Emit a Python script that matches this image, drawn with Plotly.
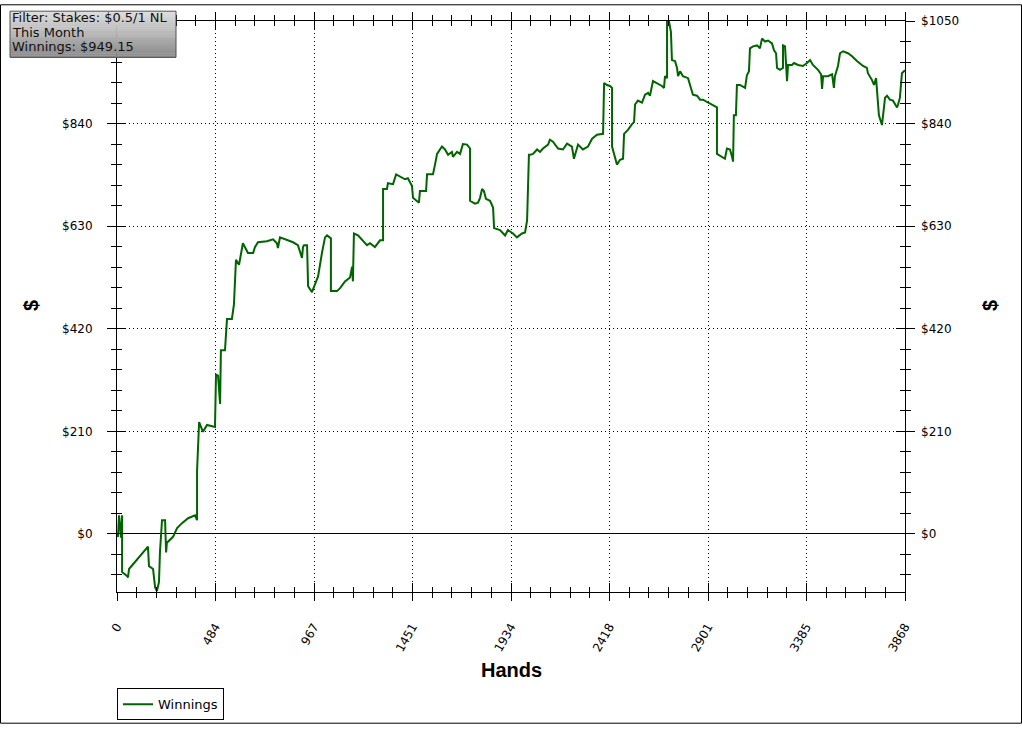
import plotly.graph_objects as go

# ---------------- data ----------------
hands = [0, 5, 10, 20, 25, 25, 49, 54, 59, 98, 128, 152, 157, 177, 187, 196, 206, 211, 221, 236,
         241, 245, 275, 295, 319, 349, 383, 393, 393, 403, 422, 442, 481, 486, 496, 506, 510, 530,
         540, 564, 574, 584, 599, 618, 643, 668, 677, 692, 736, 766, 785, 790, 800, 834, 864, 888,
         908, 913, 918, 933, 938, 957, 972, 987, 1006, 1021, 1031, 1050, 1050, 1080, 1095, 1119,
         1144, 1154, 1158, 1163, 1183, 1203, 1227, 1242, 1266, 1291, 1306, 1306, 1325, 1330, 1355,
         1370, 1389, 1414, 1428, 1448, 1453, 1473, 1482, 1487, 1517, 1522, 1551, 1561, 1571, 1595,
         1610, 1625, 1644, 1649, 1669, 1684, 1698, 1718, 1733, 1733, 1757, 1772, 1782, 1792, 1801,
         1811, 1831, 1846, 1851, 1880, 1905, 1919, 1944, 1963, 1988, 2003, 2013, 2022, 2027, 2042,
         2062, 2076, 2091, 2116, 2125, 2140, 2165, 2189, 2209, 2233, 2243, 2263, 2287, 2312, 2332,
         2356, 2386, 2391, 2405, 2420, 2430, 2430, 2444, 2454, 2469, 2484, 2489, 2508, 2528, 2538,
         2543, 2557, 2577, 2592, 2607, 2616, 2631, 2651, 2675, 2685, 2690, 2700, 2700, 2710, 2719,
         2724, 2739, 2749, 2754, 2764, 2778, 2803, 2818, 2827, 2847, 2862, 2876, 2901, 2926, 2945,
         2945, 2970, 2984, 2994, 3009, 3019, 3024, 3028, 3038, 3043, 3058, 3083, 3092, 3102, 3107,
         3122, 3142, 3156, 3166, 3181, 3196, 3215, 3225, 3235, 3240, 3254, 3269, 3269, 3279, 3289,
         3294, 3313, 3323, 3343, 3367, 3387, 3402, 3416, 3441, 3456, 3461, 3466, 3490, 3510, 3519,
         3524, 3539, 3549, 3564, 3588, 3608, 3632, 3662, 3681, 3686, 3706, 3716, 3726, 3731, 3740,
         3755, 3760, 3770, 3780, 3794, 3809, 3829, 3834, 3843, 3853, 3868]

winnings = [0, -6, 38, -8, 38, -78, -86, -89, -72, -52, -39, -26, -66, -72, -109, -117, -99, -36, 28, 28,
            -38, -18, -6, 12, 22, 32, 38, 28, 129, 229, 209, 223, 219, 326, 324, 266, 376, 376,
            440, 440, 470, 561, 551, 595, 575, 575, 587, 597, 599, 603, 595, 585, 607, 601, 597, 591,
            565, 587, 591, 591, 507, 495, 511, 527, 575, 607, 611, 605, 497, 497, 503, 517,
            525, 547, 517, 615, 611, 601, 591, 595, 587, 601, 601, 706, 706, 718, 716,
            736, 732, 726, 728, 712, 688, 682, 678, 702, 702, 736, 736, 756, 778, 793,
            787, 776, 782, 772, 782, 778, 798, 797, 789, 682, 676, 678, 688, 706, 702,
            686, 682, 668, 626, 622, 611, 622, 615, 607, 615, 617, 642, 776, 776, 778,
            787, 782, 789, 797, 807, 803, 789, 787, 799, 793, 768, 797, 787, 793, 809,
            817, 819, 923, 919, 917, 913, 793, 772, 756, 766, 768, 819, 827, 839, 843,
            879, 887, 883, 899, 903, 897, 927, 923, 917, 913, 937, 933, 1048, 1048, 1028,
            970, 968, 954, 937, 947, 937, 933, 913, 899, 897, 889, 889, 883, 877, 873,
            778, 772, 768, 789, 787, 772, 762, 857, 857, 919, 919, 913, 939, 947, 994,
            998, 1000, 994, 1014, 1008, 1010, 1004, 990, 984, 954, 950, 954, 1000, 998, 927,
            960, 960, 964, 960, 958, 964, 970, 960, 950, 941, 911, 937, 937, 941, 913,
            937, 958, 984, 988, 984, 978, 968, 958, 954, 943, 929, 919, 933, 903, 857,
            837, 859, 893, 897, 889, 887, 873, 879, 893, 943, 949.15]

x_tick_vals = [0, 483.5, 967, 1450.5, 1934, 2417.5, 2901, 3384.5, 3868]
x_tick_text = ["0", "484", "967", "1451", "1934", "2418", "2901", "3385", "3868"]
y_tick_vals = [0, 210, 420, 630, 840, 1050]
y_tick_text = ["$0", "$210", "$420", "$630", "$840", "$1050"]
x_range = [0, 3868]
y_range = [-119, 1050]
y_minor_step = 42
x_minor_step = 3868 / 40

series_name = "Winnings"
x_title = "Hands"
y_title = "$"
filter_lines = ["Filter: Stakes: $0.5/1 NL", "This Month", "Winnings: $949.15"]

# ---------------- layout helpers ----------------
W, H = 1022, 732
L, R, T, B = 117, 117, 17, 134
PW, PH = W - L - R, H - T - B


def px(x):
    return (x - L) / PW


def py(y):
    return (H - B - y) / PH


LINE_COLOR = "#006400"
TICK_FONT = dict(family="DejaVu Sans, Verdana", size=12, color="black")

fig = go.Figure()
fig.add_trace(go.Scatter(x=hands, y=winnings, mode="lines", name=series_name,
                         line=dict(color=LINE_COLOR, width=2), xaxis="x", yaxis="y"))
# helper traces so the overlay axes are drawn
fig.add_trace(go.Scatter(x=[None], y=[None], xaxis="x2", yaxis="y2", showlegend=False,
                         hoverinfo="skip"))
fig.add_trace(go.Scatter(x=[None], y=[None], xaxis="x", yaxis="y3", showlegend=False,
                         hoverinfo="skip"))

grid_common = dict(showgrid=True, gridcolor="black", gridwidth=1, griddash="1px,3px")
# left labels: the top one sits under the filter box in the reference
left_text = y_tick_text[:-1] + [""]

fig.update_layout(
    width=W, height=H,
    margin=dict(l=L, r=R, t=T, b=B, pad=0),
    paper_bgcolor="white", plot_bgcolor="white",
    showlegend=True,
    xaxis=dict(type="linear", range=x_range, tickmode="array", tickvals=x_tick_vals,
               ticktext=x_tick_text, ticks="outside", ticklen=8, tickwidth=1, tickcolor="black",
               tickangle=-60, tickfont=TICK_FONT, ticklabelstandoff=14,
               minor=dict(tick0=0, dtick=x_minor_step, ticks="outside", ticklen=5,
                          tickcolor="black", showgrid=False),
               showline=True, linecolor="black", linewidth=1, mirror="ticks",
               zeroline=False, **grid_common),
    xaxis2=dict(type="linear", overlaying="x", anchor="y", side="bottom", range=x_range,
                tickmode="array", tickvals=x_tick_vals, showticklabels=False,
                ticks="inside", ticklen=9, tickwidth=1, tickcolor="black",
                minor=dict(tick0=0, dtick=x_minor_step, ticks="inside", ticklen=5,
                           tickcolor="black", showgrid=False),
                showline=False, mirror="ticks", showgrid=False, zeroline=False),
    yaxis=dict(type="linear", range=y_range, tickmode="array", tickvals=y_tick_vals,
               ticktext=left_text,
               ticks="outside", ticklen=9, tickwidth=1, tickcolor="black", tickfont=TICK_FONT,
               ticklabelstandoff=12,
               minor=dict(tick0=0, dtick=y_minor_step, ticks="outside", ticklen=5,
                          tickcolor="black", showgrid=False),
               showline=True, linecolor="black", linewidth=1, mirror="ticks",
               zeroline=True, zerolinecolor="black", zerolinewidth=1, **grid_common),
    yaxis2=dict(type="linear", overlaying="y", anchor="x", side="left", range=y_range,
                tickmode="array", tickvals=y_tick_vals, showticklabels=False,
                ticks="inside", ticklen=9, tickwidth=1, tickcolor="black",
                minor=dict(tick0=0, dtick=y_minor_step, ticks="inside", ticklen=5,
                           tickcolor="black", showgrid=False),
                showline=False, mirror="ticks", showgrid=False, zeroline=False),
    yaxis3=dict(type="linear", overlaying="y", anchor="x", side="right", range=y_range,
                tickmode="array", tickvals=y_tick_vals, ticktext=y_tick_text,
                tickfont=TICK_FONT,
                ticks="", ticklabelstandoff=15, showline=False, showgrid=False,
                zeroline=False),
    legend=dict(x=px(117), y=py(696), xanchor="left", yanchor="top",
                bordercolor="black", borderwidth=1, bgcolor="white",
                font=dict(family="DejaVu Sans, Verdana", size=13, color="black"),
                orientation="h", itemwidth=30),
)

# axis titles
fig.add_annotation(text=f"<b>{x_title}</b>", x=px(511), y=py(677), xref="paper", yref="paper",
                   showarrow=False, xanchor="center", yanchor="middle",
                   font=dict(family="Liberation Sans, Arial", size=20, color="black"))
for xpos, ang in ((31, -90), (990, -90)):
    fig.add_annotation(text=f"<b>{y_title}</b>", x=px(xpos), y=py(307), xref="paper",
                       yref="paper", showarrow=False, xanchor="center", yanchor="middle",
                       textangle=ang,
                       font=dict(family="Liberation Sans, Arial", size=20, color="black"))

# filter box with a vertical grey gradient
bx0, bx1, by0, by1 = 10, 176, 7, 54
n_bands = 24
c_top, c_bot = (222, 222, 222), (138, 138, 138)
for i in range(n_bands):
    t = i / (n_bands - 1)
    c = tuple(int(round(c_top[k] + (c_bot[k] - c_top[k]) * t)) for k in range(3))
    ya = by0 + (by1 - by0) * i / n_bands
    yb = by0 + (by1 - by0) * (i + 1) / n_bands
    fig.add_shape(type="rect", xref="paper", yref="paper", x0=px(bx0), x1=px(bx1),
                  y0=py(ya), y1=py(yb + 0.3), line=dict(width=0),
                  fillcolor=f"rgb{c}", layer="above")
fig.add_shape(type="rect", xref="paper", yref="paper", x0=px(bx0), x1=px(bx1),
              y0=py(by0), y1=py(by1), line=dict(color="#505050", width=1),
              fillcolor="rgba(0,0,0,0)", layer="above")
for txt, yc in zip(filter_lines, (13.5, 28.5, 43.0)):
    fig.add_annotation(text=txt, x=px(11), y=py(yc), xref="paper", yref="paper",
                       showarrow=False, xanchor="left", yanchor="middle", borderpad=0,
                       font=dict(family="DejaVu Sans, Verdana", size=13, color="#111111"))

# outer frame of the image
fig.add_shape(type="rect", xref="paper", yref="paper", x0=px(0.5), x1=px(W - 0.5),
              y0=py(0.5), y1=py(H - 0.5), line=dict(color="black", width=1),
              fillcolor="rgba(0,0,0,0)", layer="above")

fig.write_html("out.html", config={"displayModeBar": False},
               post_script="document.body.style.margin='0';document.body.style.overflow='hidden';")
